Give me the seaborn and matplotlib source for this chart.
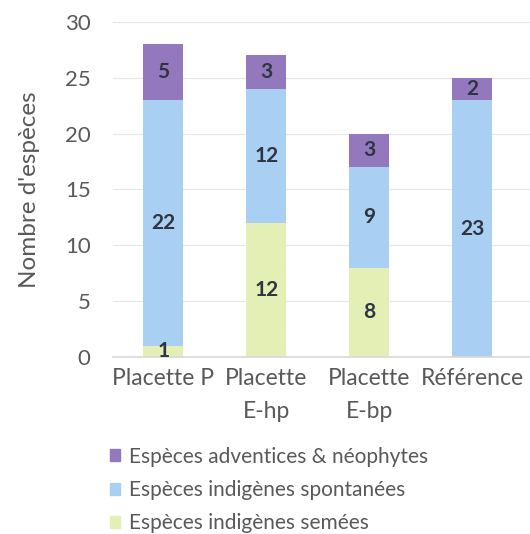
import matplotlib
matplotlib.use("Agg")
import matplotlib.pyplot as plt
from matplotlib.patches import Patch
import seaborn as sns
import pandas as pd

categories = ["Placette P", "Placette\nE-hp", "Placette\nE-bp", "Référence"]
semees = [1, 12, 8, 0]
spontanees = [22, 12, 9, 23]
adventices = [5, 3, 3, 2]
series_names = ["Espèces adventices & néophytes",
                "Espèces indigènes spontanées",
                "Espèces indigènes semées"]

c_purple = "#9478bd"
c_blue = "#a9d0f2"
c_green = "#e3efb5"
txt = "#595959"

sns.set_theme(style="white")
plt.rcParams["font.family"] = ["Lato", "DejaVu Sans"]

df = pd.DataFrame({"cat": categories, "semees": semees,
                   "spont": spontanees, "adv": adventices})
bottom_adv = [a + b for a, b in zip(semees, spontanees)]

fig = plt.figure(figsize=(5.3, 5.34), dpi=100)
ax = fig.add_axes([0.213, 0.3315, 0.787, 0.6273])

layers = [("semees", None, c_green),
          ("spont", semees, c_blue),
          ("adv", bottom_adv, c_purple)]
for col, bot, color in layers:
    kw = {} if bot is None else {"bottom": bot}
    sns.barplot(data=df, x="cat", y=col, color=color, width=0.39,
                saturation=1, ax=ax, linewidth=0, **kw)

for cont in ax.containers:
    vals = [int(round(b.get_height())) for b in cont]
    ax.bar_label(cont, labels=[str(v) if v else "" for v in vals],
                 label_type="center", fontsize=15, fontweight="bold",
                 color="#2e3440")

ax.set_ylim(0, 30)
ax.set_xlim(-0.49, 3.56)
ax.set_yticks(range(0, 31, 5))
ax.yaxis.grid(True, color="#e6e6e6", linewidth=0.8)
ax.set_axisbelow(True)
for s in ["top", "right", "left"]:
    ax.spines[s].set_visible(False)
ax.spines["bottom"].set_color("#d9d9d9")
ax.tick_params(axis="y", length=0, labelsize=16, colors=txt, pad=16)
ax.tick_params(axis="x", length=0, labelsize=16.5, colors=txt, pad=8)
for lab in ax.get_xticklabels():
    lab.set_linespacing(1.7)
ax.set_xlabel("")
ax.set_ylabel("Nombre d'espèces", fontsize=17.5, color=txt, labelpad=18)

handles = [Patch(color=c) for c in (c_purple, c_blue, c_green)]
fig.legend(handles, series_names, loc="upper left",
           bbox_to_anchor=(0.188, 0.183), frameon=False, fontsize=15,
           labelcolor=txt, handlelength=0.5, handleheight=0.5,
           handletextpad=0.4, labelspacing=0.64, borderpad=0)

fig.savefig("out.png", dpi=100)
